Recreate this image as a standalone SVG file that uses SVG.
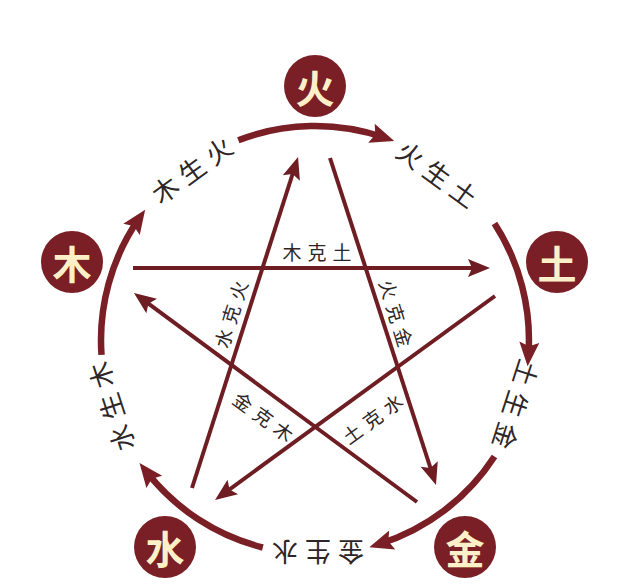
<svg xmlns="http://www.w3.org/2000/svg" width="640" height="586" viewBox="0 0 640 586">
<defs>
<style>
.arc{fill:none;stroke:#7a1f25;stroke-width:6.5;marker-end:url(#ah)}
.ke{fill:none;stroke:#6e1e23;stroke-width:4;marker-end:url(#ah2)}
.node circle{fill:#7a1f25}
.node text{fill:#fdf0c8;font-family:"Noto Sans CJK SC","Noto Sans",sans-serif;font-weight:700;font-size:39px;text-anchor:middle;dominant-baseline:central}
.sheng{fill:#2e2626;font-family:"Noto Sans CJK SC","Noto Sans",sans-serif;font-size:26px;letter-spacing:7px;text-anchor:middle;dominant-baseline:central}
.kel{fill:#2e2626;font-family:"Noto Sans CJK SC","Noto Sans",sans-serif;font-size:19px;letter-spacing:6px;text-anchor:middle;dominant-baseline:central}
</style>
<marker id="ah" markerUnits="userSpaceOnUse" markerWidth="24" markerHeight="20" refX="13" refY="10" orient="auto" overflow="visible">
<path d="M0,0 L24,10 L0,20 L4,10 z" fill="#7a1f25"/>
</marker>
<marker id="ah2" markerUnits="userSpaceOnUse" markerWidth="22" markerHeight="18" refX="12" refY="9" orient="auto" overflow="visible">
<path d="M0,0 L22,9 L0,18 L4,9 z" fill="#6e1e23"/>
</marker>
</defs>
<rect width="640" height="586" fill="#ffffff"/>

<g id="connectors">
<path id="arc-huo-tu" class="arc" d="M238.3,140.2 A214,214 0 0 1 383.8,137.4"/>
<path id="arc-tu-jin" class="arc" d="M494.5,223.5 A214,214 0 0 1 528.4,355.2"/>
<path id="arc-jin-shui" class="arc" d="M494.5,456.5 A214,214 0 0 1 379.8,543.9"/>
<path id="arc-shui-mu" class="arc" d="M262.8,547.5 A214,214 0 0 1 146.3,471.6"/>
<path id="arc-mu-huo" class="arc" d="M101.5,354.9 A214,214 0 0 1 138.9,218.7"/>
<path id="mu-ke-tu" class="ke" d="M133,268 L480,268"/>
<path id="huo-ke-jin" class="ke" d="M330,158 L432.9,475.5"/>
<path id="tu-ke-shui" class="ke" d="M495,296 L223.1,494.1"/>
<path id="jin-ke-mu" class="ke" d="M417,502 L142,298.9"/>
<path id="shui-ke-huo" class="ke" d="M192,488 L295,166.5"/>
</g>

<g id="sheng-labels">
<text class="sheng" x="3.5" transform="translate(191,169) rotate(-36)">木生火</text>
<text class="sheng" x="3.5" transform="translate(438,173) rotate(36)">火生土</text>
<text class="sheng" x="3.5" transform="translate(517,405) rotate(108)">土生金</text>
<text class="sheng" x="3.5" transform="translate(318,553) rotate(180)">金生水</text>
<text class="sheng" x="3.5" transform="translate(110,407) rotate(252)">水生木</text>
</g>

<g id="ke-labels">
<text class="kel" x="3" transform="translate(317,251)">木克土</text>
<text class="kel" x="3" transform="translate(397,313) rotate(73)">火克金</text>
<text class="kel" x="3" transform="translate(230,314) rotate(-73)">水克火</text>
<text class="kel" x="3" transform="translate(264,416) rotate(36)">金克木</text>
<text class="kel" x="3" transform="translate(372,418) rotate(-36)">土克水</text>
</g>

<g id="node-huo" class="node"><circle cx="315" cy="86" r="31"/><text x="315" y="86">火</text></g>
<g id="node-tu" class="node"><circle cx="557" cy="262" r="31"/><text x="557" y="262">土</text></g>
<g id="node-jin" class="node"><circle cx="465" cy="547" r="31"/><text x="465" y="547">金</text></g>
<g id="node-shui" class="node"><circle cx="165" cy="547" r="31"/><text x="165" y="547">水</text></g>
<g id="node-mu" class="node"><circle cx="72" cy="262" r="31"/><text x="72" y="262">木</text></g>
</svg>
